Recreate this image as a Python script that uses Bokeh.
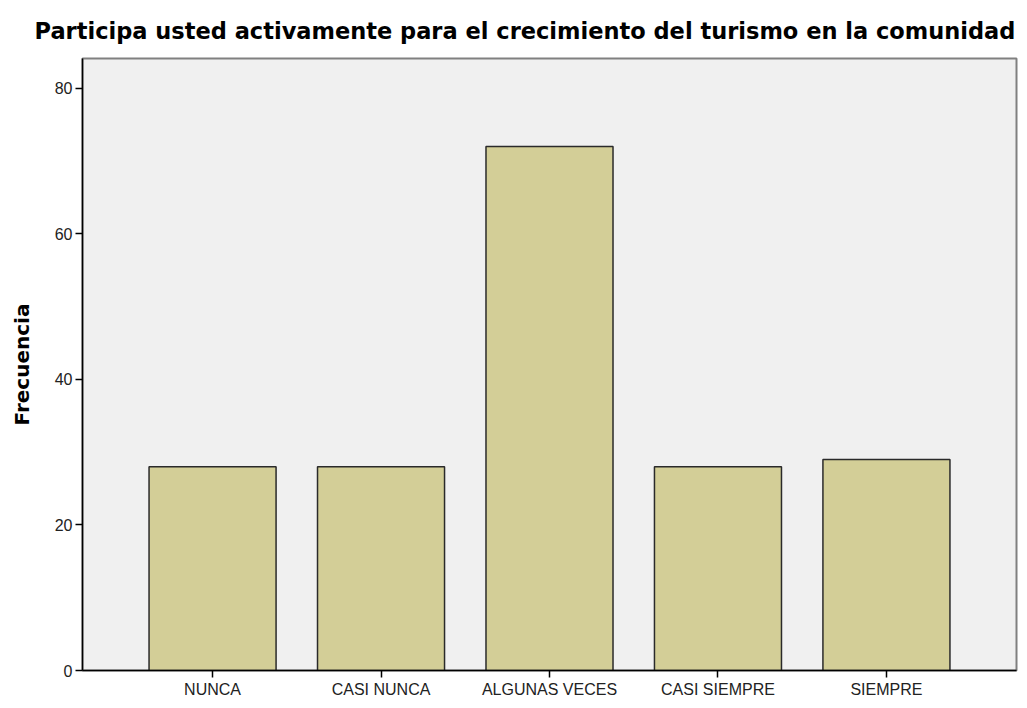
from bokeh.plotting import figure
from bokeh.models import Range1d, FactorRange, FixedTicker
from bokeh.embed import file_html
from bokeh.resources import INLINE

categories = ["NUNCA", "CASI NUNCA", "ALGUNAS VECES", "CASI SIEMPRE", "SIEMPRE"]
frecuencia = [28, 28, 72, 28, 29]
y_ticks = [0, 20, 40, 60, 80]

TITLE = "Participa usted activamente para el crecimiento del turismo en  la comunidad"
FONT = "Liberation Sans"
BOLD_FONT = "DejaVu Sans"

p = figure(
    x_range=FactorRange(*categories, range_padding=0.272, range_padding_units="absolute"),
    y_range=Range1d(0, 84.1),
    width=1019, height=700,
    output_backend="svg", toolbar_location=None,
    min_border_left=82, min_border_right=3, min_border_top=58, min_border_bottom=29,
    title=TITLE,
)

p.vbar(x=categories, top=frecuencia, width=0.754,
       fill_color="#D3CE97", line_color="#2A2A2A", line_width=1.5)

p.background_fill_color = "#F0F0F0"
p.border_fill_color = "white"
p.outline_line_color = "#808080"
p.outline_line_width = 2

p.xgrid.grid_line_color = None
p.ygrid.grid_line_color = None

p.title.text_font = BOLD_FONT
p.title.text_font_size = "22.5px"
p.title.text_font_style = "bold"
p.title.text_color = "black"
p.title.align = "left"
p.title.offset = -48
p.title.standoff = 29

p.yaxis.ticker = FixedTicker(ticks=y_ticks)
p.yaxis.axis_label = "Frecuencia"
p.yaxis.axis_label_text_font = BOLD_FONT
p.yaxis.axis_label_text_font_style = "bold"
p.yaxis.axis_label_text_font_size = "20px"
p.yaxis.axis_label_text_color = "black"
p.yaxis.axis_label_standoff = 18

for ax in (p.xaxis, p.yaxis):
    ax.axis_line_color = "black"
    ax.axis_line_width = 1.5
    ax.major_tick_line_color = "black"
    ax.major_tick_line_width = 1.5
    ax.major_tick_in = 0
    ax.major_tick_out = 7
    ax.minor_tick_line_color = None
    ax.major_label_text_font = FONT
    ax.major_label_text_font_size = "16px"
    ax.major_label_text_color = "#222222"
    ax.major_label_standoff = 3

open("out.html", "w").write(file_html(p, INLINE))
